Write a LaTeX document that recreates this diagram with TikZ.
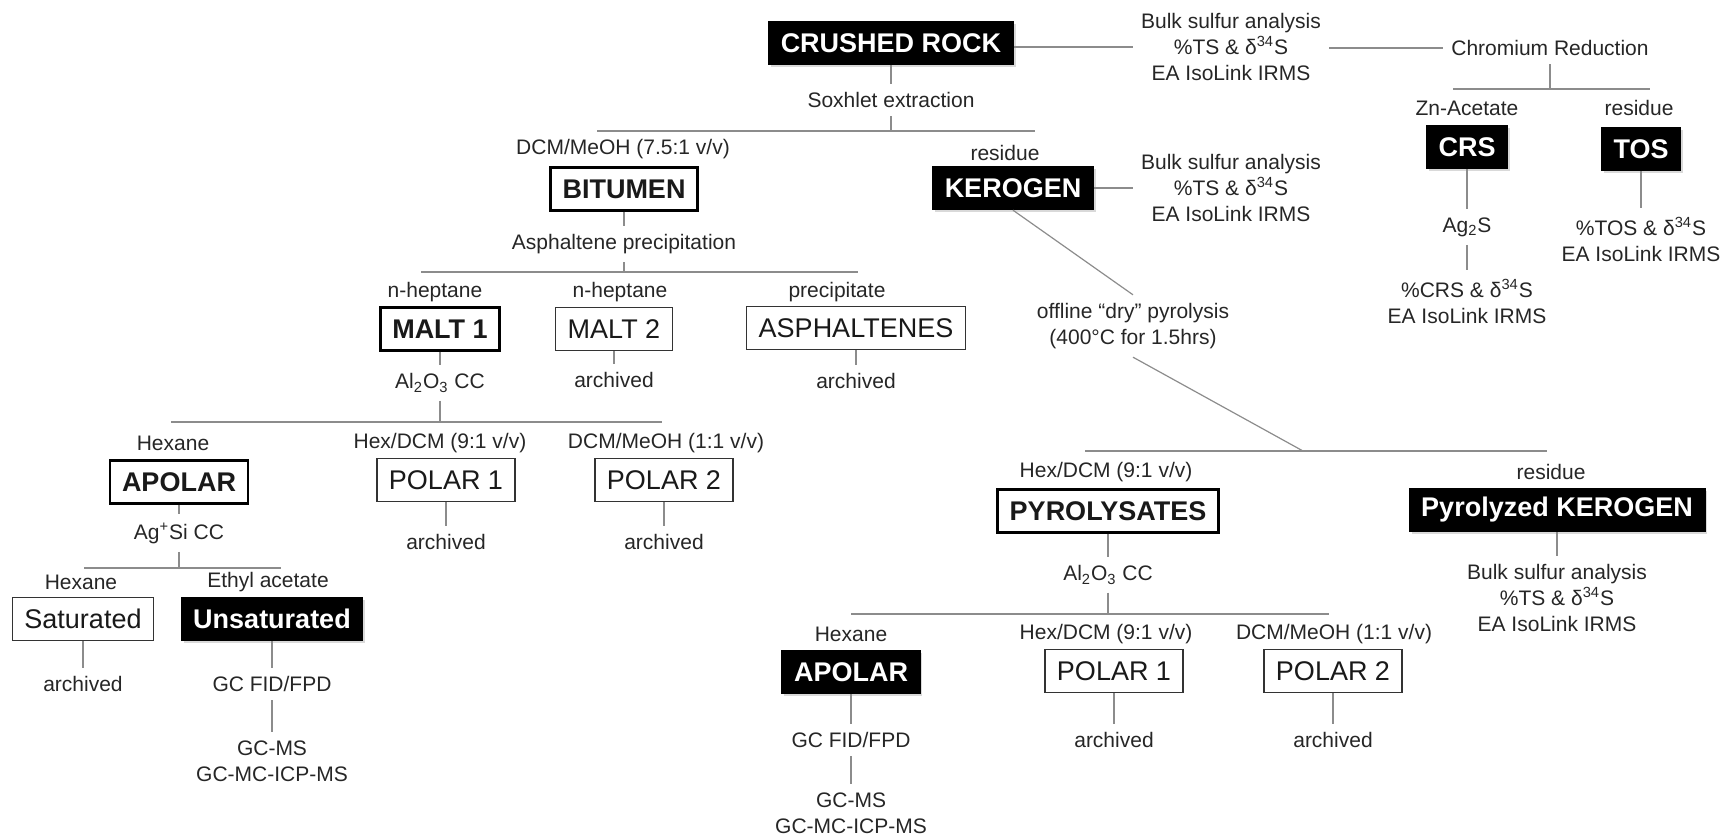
\documentclass[tikz,border=0pt]{standalone}
\usepackage{fontspec}
\setmainfont{Liberation Sans}
\usepackage{tikz}
\usetikzlibrary{shadows}

\begin{document}
\begin{tikzpicture}[x=0.5pt, y=-0.5pt,
  txt/.style={align=center, inner sep=4pt, text=black!85, font=\fontsize{10.5}{13}\selectfont},
  box/.style={draw=black!80, line width=0.7pt, fill=white, minimum height=21.5pt, inner xsep=6pt, inner ysep=0pt, text=black!90, font=\fontsize{13.5}{16}\selectfont},
  tbox/.style={box, draw=black, line width=1.4pt, font=\fontsize{13.5}{16}\selectfont\bfseries},
  blk/.style={box, draw=black, fill=black, text=white, font=\fontsize{13.5}{16}\selectfont\bfseries, drop shadow={shadow xshift=1.2pt, shadow yshift=-1.2pt, opacity=0.3}},
  ln/.style={draw=black!45, line width=0.6pt},
]
\useasboundingbox (0,0) rectangle (1724,836);
% ================= ROCK =================
\node[blk] (crush) at (891,43) {CRUSHED ROCK};
\node[txt] (bulkA) at (1231,47) {Bulk sulfur analysis\\\%TS \& δ\textsuperscript{34}S\\EA IsoLink IRMS};
\node[txt] (chrom) at (1550,48) {Chromium Reduction};
\node[txt] (sox) at (891,100) {Soxhlet extraction};
\draw[ln] (crush.east |- bulkA) -- (bulkA.west);
\draw[ln] (bulkA.east |- chrom) -- (chrom.west);
\draw[ln] (crush) -- (sox);
\coordinate (s1a) at (597,131);
\coordinate (s1b) at (1035,131);
\draw[ln] (sox) -- (sox |- s1a);
\draw[ln] (s1a) -- (s1b);
% chromium reduction
\coordinate (s7a) at (1453,89);
\coordinate (s7b) at (1650,89);
\draw[ln] (chrom) -- (chrom |- s7a);
\draw[ln] (s7a) -- (s7b);
\node[txt] (lcrs) at (1467,108) {Zn-Acetate};
\node[blk] (crs) at (1467,147) {CRS};
\node[txt] (ags) at (1467,227) {Ag\textsubscript{2}S};
\node[txt] (crsA) at (1467,301) {\%CRS \& δ\textsuperscript{34}S\\EA IsoLink IRMS};
\draw[ln] (crs) -- (ags);
\draw[ln] (ags) -- (crsA);
\node[txt] (ltos) at (1639,108) {residue};
\node[blk] (tos) at (1641,149) {TOS};
\node[txt] (tosA) at (1641,239) {\%TOS \& δ\textsuperscript{34}S\\EA IsoLink IRMS};
\draw[ln] (tos) -- (tosA);
% ================= BITUMEN =================
\node[txt] (lbit) at (623,149) {DCM/MeOH (7.5:1 v/v)};
\node[tbox] (bit) at (624,189) {BITUMEN};
\node[txt] (asph) at (624,244) {Asphaltene precipitation};
\draw[ln] (bit) -- (asph);
\coordinate (s2a) at (421,272);
\coordinate (s2b) at (858,272);
\draw[ln] (asph) -- (asph |- s2a);
\draw[ln] (s2a) -- (s2b);
\node[txt] (lm1) at (435,292) {n-heptane};
\node[tbox] (m1) at (440,329) {MALT 1};
\node[txt] (lm2) at (620,292) {n-heptane};
\node[box] (m2) at (614,329) {MALT 2};
\node[txt] (las) at (837,292) {precipitate};
\node[box] (asp) at (856,328) {ASPHALTENES};
\node[txt] (al1) at (440,383) {Al\textsubscript{2}O\textsubscript{3} CC};
\node[txt] (arm2) at (614,380) {archived};
\node[txt] (aras) at (856,381) {archived};
\draw[ln] (m1) -- (al1);
\draw[ln] (m2) -- (arm2);
\draw[ln] (asp) -- (aras);
\coordinate (s3a) at (171,422);
\coordinate (s3b) at (662,422);
\draw[ln] (al1) -- (al1 |- s3a);
\draw[ln] (s3a) -- (s3b);
% maltene fractions
\node[txt] (lap) at (173,443) {Hexane};
\node[tbox] (ap) at (179,482) {APOLAR};
\node[txt] (lp1) at (440,443) {Hex/DCM (9:1 v/v)};
\node[box] (p1) at (446,480) {POLAR 1};
\node[txt] (lp2) at (666,443) {DCM/MeOH (1:1 v/v)};
\node[box] (p2) at (664,480) {POLAR 2};
\node[txt] (arp1) at (446,542) {archived};
\node[txt] (arp2) at (664,542) {archived};
\draw[ln] (p1) -- (arp1);
\draw[ln] (p2) -- (arp2);
\node[txt] (agsi) at (179,533) {Ag\textsuperscript{+}Si CC};
\draw[ln] (ap) -- (agsi);
\coordinate (s4a) at (84,568);
\coordinate (s4b) at (281,568);
\draw[ln] (agsi) -- (agsi |- s4a);
\draw[ln] (s4a) -- (s4b);
\node[txt] (lsat) at (81,582) {Hexane};
\node[box] (sat) at (83,619) {Saturated};
\node[txt] (lun) at (268,582) {Ethyl acetate};
\node[blk] (uns) at (272,619) {Unsaturated};
\node[txt] (arsat) at (83,684) {archived};
\node[txt] (gcA) at (272,684) {GC FID/FPD};
\node[txt] (msA) at (272,761) {GC-MS\\GC-MC-ICP-MS};
\draw[ln] (sat) -- (arsat);
\draw[ln] (uns) -- (gcA);
\draw[ln] (gcA) -- (msA);
% ================= KEROGEN =================
\node[txt] (lker) at (1005,153) {residue};
\node[blk] (ker) at (1013,188) {KEROGEN};
\node[txt] (bulkB) at (1231,188) {Bulk sulfur analysis\\\%TS \& δ\textsuperscript{34}S\\EA IsoLink IRMS};
\draw[ln] (ker) -- (bulkB);
\node[txt] (pyro) at (1133,326) {offline “dry” pyrolysis\\(400°C for 1.5hrs)};
\coordinate (s5) at (1303,451);
\coordinate (s5a) at (1085,451);
\coordinate (s5b) at (1547,451);
\draw[ln] (ker.south) -- (pyro.north);
\draw[ln] (pyro.south) -- (s5);
\draw[ln] (s5a) -- (s5b);
\node[txt] (lpys) at (1106,472) {Hex/DCM (9:1 v/v)};
\node[tbox] (pys) at (1108,511) {PYROLYSATES};
\node[txt] (lpk) at (1551,472) {residue};
\node[blk] (pk) at (1557,510) {Pyrolyzed KEROGEN};
\node[txt] (bulkC) at (1557,598) {Bulk sulfur analysis\\\%TS \& δ\textsuperscript{34}S\\EA IsoLink IRMS};
\draw[ln] (pk) -- (bulkC);
\node[txt] (al2) at (1108,575) {Al\textsubscript{2}O\textsubscript{3} CC};
\draw[ln] (pys) -- (al2);
\coordinate (s6a) at (851,614);
\coordinate (s6b) at (1329,614);
\draw[ln] (al2) -- (al2 |- s6a);
\draw[ln] (s6a) -- (s6b);
% pyrolysate fractions
\node[txt] (lap2) at (851,634) {Hexane};
\node[blk] (ap2) at (851,672) {APOLAR};
\node[txt] (gcB) at (851,740) {GC FID/FPD};
\node[txt] (msB) at (851,813) {GC-MS\\GC-MC-ICP-MS};
\draw[ln] (ap2) -- (gcB);
\draw[ln] (gcB) -- (msB);
\node[txt] (lp1b) at (1106,634) {Hex/DCM (9:1 v/v)};
\node[box] (p1b) at (1114,671) {POLAR 1};
\node[txt] (arp1b) at (1114,740) {archived};
\draw[ln] (p1b) -- (arp1b);
\node[txt] (lp2b) at (1334,634) {DCM/MeOH (1:1 v/v)};
\node[box] (p2b) at (1333,671) {POLAR 2};
\node[txt] (arp2b) at (1333,740) {archived};
\draw[ln] (p2b) -- (arp2b);
\end{tikzpicture}
\end{document}
